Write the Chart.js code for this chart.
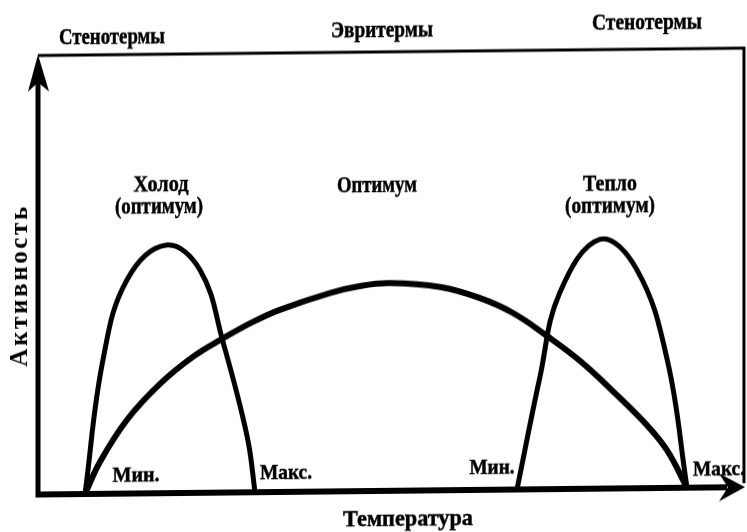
<!DOCTYPE html>
<html>
<head>
<meta charset="utf-8">
<script src="https://cdn.jsdelivr.net/npm/chart.js@4.4.1/dist/chart.umd.min.js"></script>
<style>
  html, body { margin: 0; padding: 0; background: #fff; overflow: hidden; }
  /* the printed figure sits slightly askew on the page */
  #wrap { width: 747px; height: 532px; transform: skewY(-0.6deg); transform-origin: 373.5px 266px; }
  canvas { display: block; }
</style>
</head>
<body>
<div id="wrap"><canvas id="chart" width="747" height="532"></canvas></div>
<script>
// Temperature axis runs 0..100, activity axis runs 0..100 (relative units).

// Cold-adapted stenotherm (narrow curve on the left)
const coldTemp     = [6.65, 9.19, 12.59, 18.1, 22.9, 26.2, 29.6, 30.7];
const coldActivity = [0,    30.5, 48.7,  56.5, 50.8, 34.1, 12.6, 0];

// Eurytherm (broad curve across the whole range)
const euryTemp     = [6.65, 8.77, 12.59, 17.26, 21.92, 26.03, 30.4, 34.2, 41.3, 45.5, 49.8, 56.9, 62.5, 67.2, 72.0, 76.7, 81.3, 86.1, 88.97, 91.8];
const euryActivity = [0,    7.3,  16.8,  24.9,  31.0,  35.0,  38.8, 41.5, 45.2, 46.7, 47.3, 46.3, 43.7, 40.2, 34.9, 29.1, 22.2, 14.4, 8.6,   0];

// Warm-adapted stenotherm (narrow curve on the right)
const warmTemp     = [67.75, 71.0, 73.8, 79.5, 84.7, 89.0, 91.8];
const warmActivity = [0,     25.6, 44.7, 56.8, 49.8, 29.2, 0];

// Text of the figure
const groupLabels   = ['Стенотермы', 'Эвритермы', 'Стенотермы'];
const optimumLabels = ['Холод', '(оптимум)', 'Оптимум', 'Тепло', '(оптимум)'];
const limitLabels   = ['Мин.', 'Макс.', 'Мин.', 'Макс.'];
const xTitle = 'Температура';
const yTitle = 'Активность';

const toPoints = (xs, ys) => xs.map((x, i) => ({ x, y: ys[i] }));

// Where each piece of text goes: [text, centre x, centre y, width, font size]
const textLayout = [
  [groupLabels[0], 112, 35, 106, 23],
  [groupLabels[1], 382, 31, 102, 23],
  [groupLabels[2], 647, 26, 110, 23],
  [optimumLabels[0], 161, 183, 55, 23],
  [optimumLabels[1], 159, 205, 88, 23],
  [optimumLabels[2], 377, 186, 80, 23],
  [optimumLabels[3], 610, 187, 54, 23],
  [optimumLabels[4], 610, 209, 90, 23],
  [limitLabels[0], 136, 474, 47, 21],
  [limitLabels[1], 286, 473, 52, 21],
  [limitLabels[2], 492, 470, 45, 21],
  [limitLabels[3], 719, 474, 52, 21],
  [xTitle, 408, 520, 130, 24]
];

function fittedText(ctx, text, cx, cy, width, size) {
  ctx.save();
  ctx.font = `bold ${size}px "Liberation Serif"`;
  ctx.textAlign = 'center';
  ctx.textBaseline = 'middle';
  const w = ctx.measureText(text).width;
  ctx.translate(cx, cy);
  ctx.scale(width / w, 1);
  ctx.fillStyle = '#000';
  ctx.strokeStyle = '#000';
  ctx.lineWidth = 0.5;
  ctx.fillText(text, 0, 0);
  ctx.strokeText(text, 0, 0);
  ctx.restore();
}

// Axes with arrow heads plus the open frame along top and right
const framePlugin = {
  id: 'frame',
  beforeDatasetsDraw(chart) {
    const { ctx } = chart;
    const x0 = chart.scales.x.getPixelForValue(0);
    const y0 = chart.scales.y.getPixelForValue(0);
    const yTop = chart.scales.y.getPixelForValue(100);
    const xEnd = chart.scales.x.getPixelForValue(100);
    ctx.save();
    ctx.strokeStyle = '#000';
    ctx.fillStyle = '#000';
    ctx.lineCap = 'butt';

    // top and right border
    ctx.lineWidth = 3;
    ctx.beginPath();
    ctx.moveTo(x0, yTop);
    ctx.lineTo(xEnd - 1, yTop);
    ctx.lineTo(xEnd - 1, y0 - 4);
    ctx.stroke();

    // vertical axis
    ctx.lineWidth = 5;
    ctx.beginPath();
    ctx.moveTo(x0, y0 + 3);
    ctx.lineTo(x0, yTop + 20);
    ctx.stroke();
    ctx.beginPath();
    ctx.moveTo(x0, yTop - 1);
    ctx.lineTo(x0 - 10, yTop + 36);
    ctx.lineTo(x0, yTop + 27);
    ctx.lineTo(x0 + 11, yTop + 36);
    ctx.closePath();
    ctx.fill();

    // horizontal axis
    ctx.lineWidth = 6;
    ctx.beginPath();
    ctx.moveTo(x0 - 2, y0);
    ctx.lineTo(xEnd - 18, y0);
    ctx.stroke();
    ctx.beginPath();
    ctx.moveTo(xEnd, y0);
    ctx.lineTo(xEnd - 26, y0 - 14);
    ctx.lineTo(xEnd - 17, y0);
    ctx.lineTo(xEnd - 26, y0 + 14);
    ctx.closePath();
    ctx.fill();
    ctx.restore();
  },
  afterDraw(chart) {
    const { ctx } = chart;
    textLayout.forEach(t => fittedText(ctx, t[0], t[1], t[2], t[3], t[4]));

    // vertical axis title, letter-spaced
    ctx.save();
    ctx.font = 'bold 25px "Liberation Serif"';
    ctx.textAlign = 'left';
    ctx.textBaseline = 'middle';
    ctx.fillStyle = '#000';
    const chars = Array.from(yTitle);
    const plain = ctx.measureText(yTitle).width;
    const spacing = (160 - plain) / (chars.length - 1);
    ctx.translate(21, 283);
    ctx.rotate(-Math.PI / 2);
    let x = -80;
    chars.forEach(c => {
      ctx.fillText(c, x, 0);
      x += ctx.measureText(c).width + spacing;
    });
    ctx.restore();
  }
};

const curve = (data, width) => ({
  data,
  borderColor: '#000',
  borderWidth: width,
  pointRadius: 0,
  fill: false,
  tension: 0.4,
  borderJoinStyle: 'round',
  borderCapStyle: 'butt',
  clip: false
});

new Chart(document.getElementById('chart'), {
  type: 'line',
  data: {
    datasets: [
      curve(toPoints(coldTemp, coldActivity), 5),
      curve(toPoints(euryTemp, euryActivity), 6),
      curve(toPoints(warmTemp, warmActivity), 5)
    ]
  },
  options: {
    responsive: false,
    animation: false,
    events: [],
    layout: { padding: { left: 38, right: 2, top: 52, bottom: 41 } },
    plugins: { legend: { display: false }, tooltip: { enabled: false } },
    scales: {
      x: { type: 'linear', min: 0, max: 100, display: false },
      y: { type: 'linear', min: 0, max: 100, display: false }
    }
  },
  plugins: [framePlugin]
});
</script>
</body>
</html>
